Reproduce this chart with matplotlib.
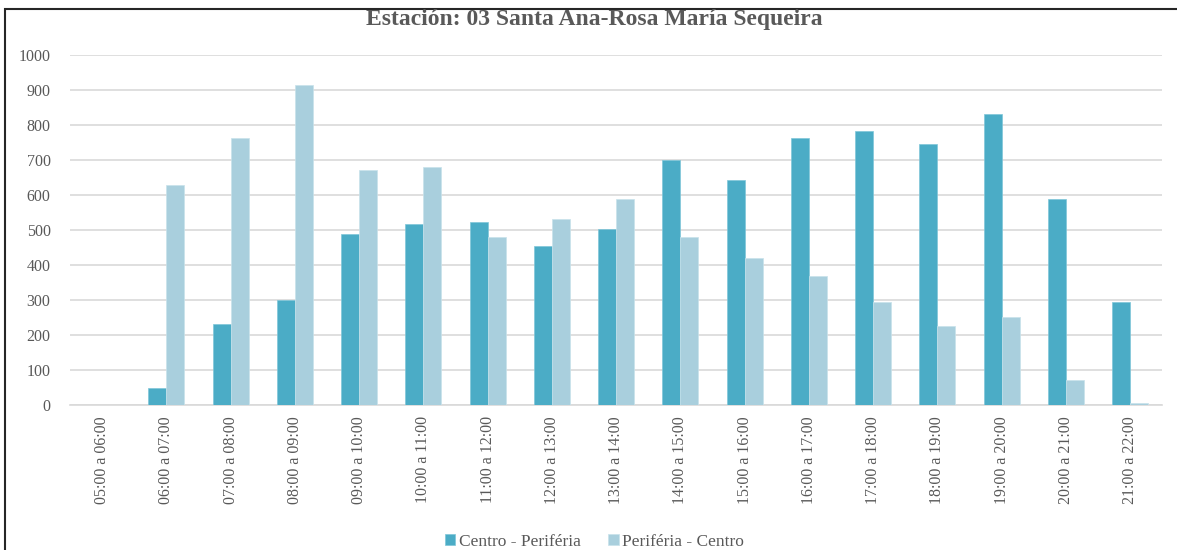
import matplotlib.pyplot as plt
import numpy as np
from matplotlib.patches import Rectangle

franjas = ['05:00 a 06:00', '06:00 a 07:00', '07:00 a 08:00', '08:00 a 09:00',
           '09:00 a 10:00', '10:00 a 11:00', '11:00 a 12:00', '12:00 a 13:00',
           '13:00 a 14:00', '14:00 a 15:00', '15:00 a 16:00', '16:00 a 17:00',
           '17:00 a 18:00', '18:00 a 19:00', '19:00 a 20:00', '20:00 a 21:00',
           '21:00 a 22:00']
centro_periferia = [0, 50, 232, 300, 490, 518, 524, 455, 504, 700, 644, 764,
                    782, 746, 832, 589, 294]
periferia_centro = [0, 628, 764, 915, 672, 681, 481, 532, 589, 481, 420, 369,
                    294, 225, 251, 71, 5]

plt.rcParams['font.family'] = ['Liberation Serif', 'DejaVu Serif']
gris = '#595959'

fig = plt.figure(figsize=(11.77, 5.5), dpi=100)
ax = fig.add_axes([0.0595, 0.2636, 0.928, 0.6364])

x = np.arange(len(franjas))
w = 0.28
ax.bar(x - w / 2, centro_periferia, w, color='#4BACC6', label='Centro - Periféria',
       edgecolor='#7fc6d8', linewidth=0.5, zorder=3)
ax.bar(x + w / 2, periferia_centro, w, color='#A9CFDD', label='Periféria - Centro',
       edgecolor='#c8e2eb', linewidth=0.5, zorder=3)

ax.set_xlim(-0.5, len(franjas) - 0.5)
ax.set_ylim(0, 1000)
ax.set_yticks(range(0, 1001, 100))
ax.set_xticks(x)
ax.set_xticklabels(franjas, rotation=90)
ax.tick_params(length=0, labelsize=11.5, colors=gris, pad=8)
ax.tick_params(axis='y', pad=14)
ax.grid(axis='y', color='#d9d9d9', linewidth=1.2, zorder=0)
for s in ['top', 'right', 'left']:
    ax.spines[s].set_visible(False)
ax.spines['bottom'].set_color('#d9d9d9')
ax.spines['bottom'].set_linewidth(1.2)

fig.text(0.505, 0.964, 'Estación: 03 Santa Ana-Rosa María Sequeira', ha='center', va='center',
         fontsize=17, fontweight='bold', color=gris)

fig.legend(loc='lower center', bbox_to_anchor=(0.505, -0.028), ncol=2, frameon=False,
           fontsize=12.5, labelcolor=gris, handlelength=0.6, handleheight=0.6,
           handletextpad=0.2, columnspacing=1.6)

fig.patches.append(Rectangle((0.004, -0.05), 1.2, 0.035 + 0.9986, transform=fig.transFigure,
                             fill=False, edgecolor='#262626', linewidth=1.5))

fig.savefig('out.png', dpi=100)
